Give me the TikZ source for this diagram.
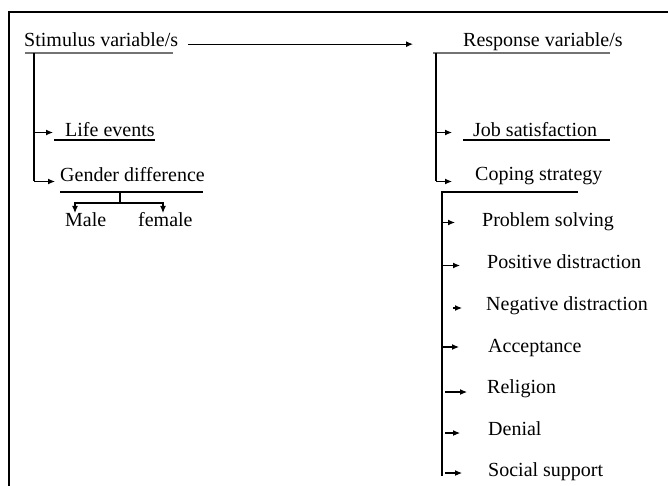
\documentclass[tikz,border=0pt]{standalone}
\usepackage{fontspec}
\setmainfont{Liberation Serif}
\usetikzlibrary{arrows.meta}

\tikzset{
  lbl/.style={anchor=base west, inner sep=0pt, font=\fontsize{20}{24}\selectfont},
  ln/.style={line width=1.1pt},
  uline/.style={line width=1.3pt, black!55},
  >={Latex[length=7pt,width=6pt]}
}

\begin{document}
\begin{tikzpicture}[x=1pt, y=-1pt]
\useasboundingbox (0,0) rectangle (668,486);
% frame
\draw[line width=2.8pt] (9,486) -- (9,12) -- (668,12);

% headings
\node[lbl] (stim) at (24,47) {Stimulus variable/s};
\node[lbl] (resp) at (463,47) {Response variable/s};
\draw[uline] (25,53) -- (173,53);
\draw[uline] (433,53) -- (610,53);
\draw[ln,->,shorten <=10pt,shorten >=50pt] ([yshift=-4pt]stim.east) -- ([yshift=-4pt]stim.east -| resp.west);

% stimulus side
\node[lbl] (life) at (65,137) {Life events};
\node[lbl] (gender) at (60,182) {Gender difference};
\node[lbl] (male) at (65,226) {Male};
\node[lbl] (female) at (138,226) {female};
\draw[ln] (54,140) -- (155,140);
\draw[ln] (60,192) -- (203,192);
\coordinate (s1) at (34,132.5);
\coordinate (s2) at (34,181.5);
\draw[ln] (34,53) -- (s2);
\draw[ln,->,shorten >=12pt] (s1) -- (s1 -| life.west);
\draw[ln,->,shorten >=5pt] (s2) -- (s2 -| gender.west);
\coordinate (g0) at (120,192);
\coordinate (g1) at (120,203);
\draw[ln] (g0) -- (g1);
\draw[ln,->] (g1) -| (75,213);
\draw[ln,->] (g1) -| (163,213);

% response side
\node[lbl] (job) at (473,137) {Job satisfaction};
\node[lbl] (coping) at (475,181) {Coping strategy};
\draw[ln] (463,140) -- (610,140);
\coordinate (r1) at (436,132.5);
\coordinate (r2) at (436,181.5);
\draw[ln] (436,53) -- (r2);
\draw[ln,->,shorten >=21pt] (r1) -- (r1 -| job.west);
\draw[ln,->,shorten >=23pt] (r2) -- (r2 -| coping.west);

% coping strategies
\draw[ln] (578,192) -- (442,192) -- (442,476);
\node[lbl] (probl) at (482,226) {Problem solving};
\node[lbl] (posdist) at (487,268) {Positive distraction};
\node[lbl] (negdist) at (486,310) {Negative distraction};
\node[lbl] (accept) at (488,352) {Acceptance};
\node[lbl] (relig) at (487,393) {Religion};
\node[lbl] (denial) at (488,435) {Denial};
\node[lbl] (social) at (488,476) {Social support};
\coordinate (c1) at (442,222.5);
\coordinate (c2) at (442,265.5);
\coordinate (c3) at (453,308);
\coordinate (c4) at (442,347);
\coordinate (c5) at (445,392);
\coordinate (c6) at (445,433);
\coordinate (c7) at (445,473);
\draw[ln,->,shorten >=27pt] (c1) -- (c1 -| probl.west);
\draw[ln,->,shorten >=27pt] (c2) -- (c2 -| posdist.west);
\draw[ln,->,shorten >=24pt] (c3) -- (c3 -| negdist.west);
\draw[ln,->,shorten >=29pt] (c4) -- (c4 -| accept.west);
\draw[ln,->,shorten >=20pt] (c5) -- (c5 -| relig.west);
\draw[ln,->,shorten >=28pt] (c6) -- (c6 -| denial.west);
\draw[ln,->,shorten >=26pt] (c7) -- (c7 -| social.west);
\end{tikzpicture}
\end{document}
